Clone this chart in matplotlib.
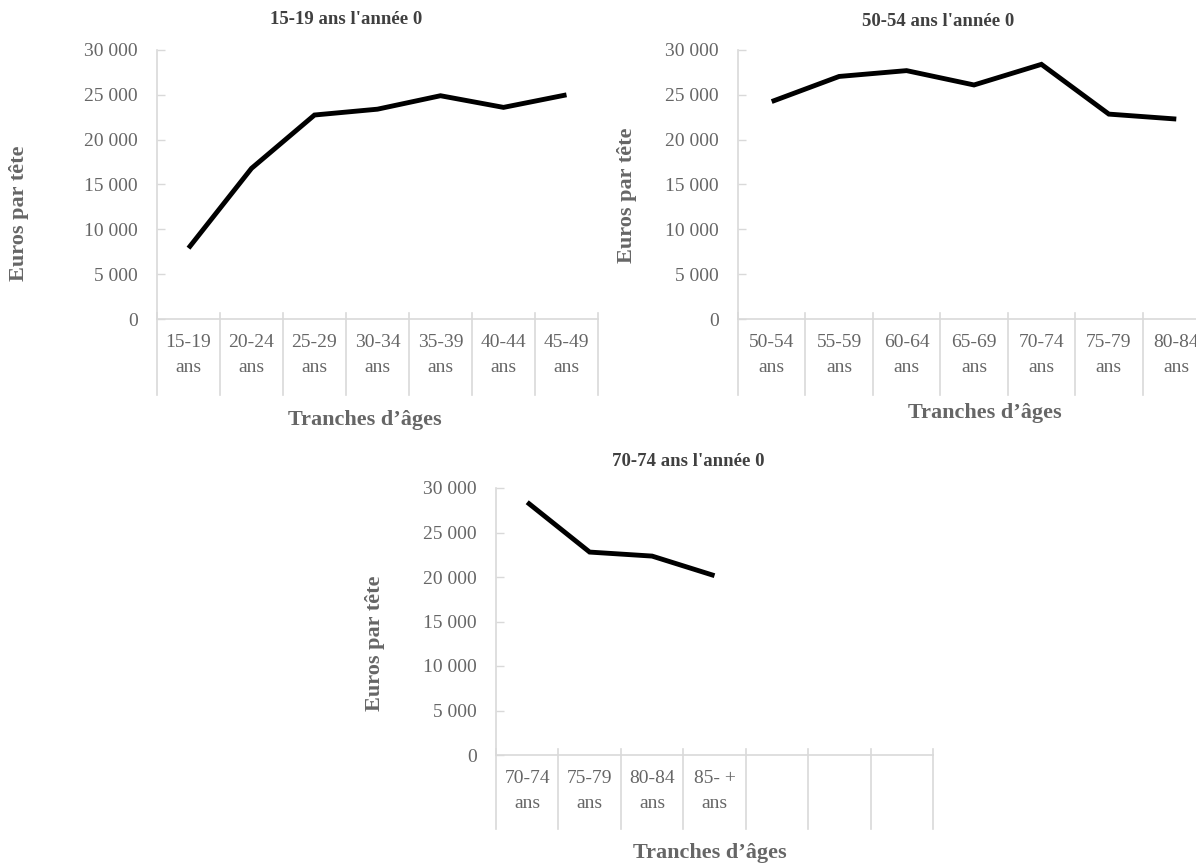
"""Euros par tête par tranche d'âges, trois cohortes (année 0)"""

import matplotlib
matplotlib.use('Agg')
import matplotlib.pyplot as plt
import matplotlib.ticker as ticker

plt.rcParams['font.family'] = ['Liberation Serif', 'DejaVu Serif']

# Data
cats_1 = ['15-19\nans', '20-24\nans', '25-29\nans', '30-34\nans', '35-39\nans', '40-44\nans', '45-49\nans']
vals_1 = [7900, 16800, 22750, 23400, 24900, 23600, 25000]

cats_2 = ['50-54\nans', '55-59\nans', '60-64\nans', '65-69\nans', '70-74\nans', '75-79\nans', '80-84\nans']
vals_2 = [24250, 27050, 27700, 26100, 28400, 22850, 22300]

cats_3 = ['70-74\nans', '75-79\nans', '80-84\nans', '85- +\nans', '', '', '']
vals_3 = [28400, 22800, 22350, 20150]

titles = ["15-19 ans l'année 0", "50-54 ans l'année 0", "70-74 ans l'année 0"]
y_ticks = [0, 5000, 10000, 15000, 20000, 25000, 30000]

TEXT = '#666666'
TITLE = '#404040'
AXIS = '#d9d9d9'
W, H = 1196, 865

fig = plt.figure(figsize=(W / 100, H / 100), dpi=100)


def px_axes(left, top, right, bottom):
    return fig.add_axes([left / W, 1 - bottom / H, (right - left) / W, (bottom - top) / H])


def style(ax, cats, vals, below_frac):
    n = len(cats)
    ax.plot(range(len(vals)), vals, color='black', linewidth=3.5, solid_capstyle='butt',
            solid_joinstyle='miter')
    ax.set_xlim(-0.5, n - 0.5)
    ax.set_ylim(0, 30000)
    ax.set_yticks(y_ticks)
    ax.yaxis.set_major_formatter(ticker.FuncFormatter(lambda v, p: f'{v:,.0f}'.replace(',', ' ')))
    ax.set_xticks(range(n))
    ax.set_xticklabels(cats, linespacing=1.6)
    for s in ['top', 'right']:
        ax.spines[s].set_visible(False)
    for s in ['left', 'bottom']:
        ax.spines[s].set_color(AXIS)
        ax.spines[s].set_linewidth(1.2)
    ax.tick_params(axis='y', direction='in', length=6, width=1, color=AXIS,
                   labelsize=14, labelcolor=TEXT, pad=14)
    ax.tick_params(axis='x', length=0, labelsize=14, labelcolor=TEXT, pad=11)
    # category separators (Excel style)
    tr = ax.get_xaxis_transform()
    for i in range(n + 1):
        ax.plot([i - 0.5, i - 0.5], [-below_frac, 0.022], transform=tr, color=AXIS,
                linewidth=1.2, clip_on=False)


ax1 = px_axes(157, 50, 598, 319)
style(ax1, cats_1, vals_1, 76 / 269)
ax2 = px_axes(738, 50, 1210, 319)
style(ax2, cats_2, vals_2, 76 / 269)
ax3 = px_axes(496, 488, 933, 755)
style(ax3, cats_3, vals_3, 74 / 267)

# titles and axis labels
for (x, y), t in zip([(346, 20), (938, 22), (688, 461)], titles):
    fig.text(x / W, 1 - y / H, t, ha='center', va='center', fontsize=13.5,
             fontweight='bold', color=TITLE)
for x, y in [(365, 420), (985, 413), (710, 853)]:
    fig.text(x / W, 1 - y / H, 'Tranches d\u2019âges', ha='center', va='center',
             fontsize=16, fontweight='bold', color=TEXT)
for x, y in [(19, 213), (627, 195), (375, 643)]:
    fig.text(x / W, 1 - y / H, 'Euros par tête', ha='center', va='center',
             fontsize=16, fontweight='bold', color=TEXT, rotation=90)

fig.savefig('out.png', dpi=100)
